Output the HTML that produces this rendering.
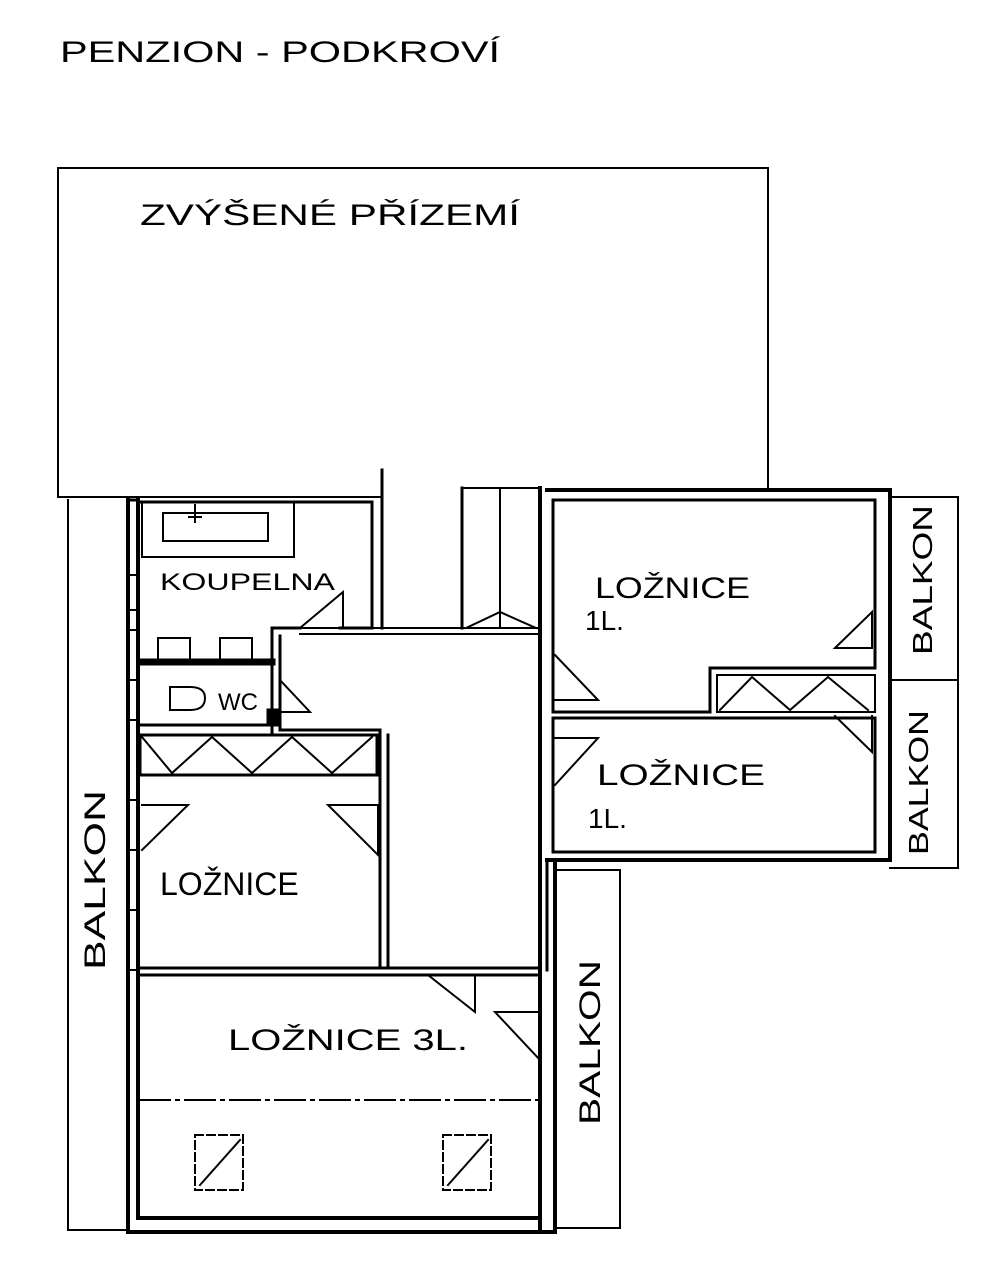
<!DOCTYPE html>
<html><head><meta charset="utf-8"><style>
html,body{margin:0;padding:0;background:#fff;width:1000px;height:1267px;overflow:hidden}
svg{display:block}
text{font-family:"Liberation Sans",sans-serif;fill:#000;font-weight:normal}
</style></head><body>
<svg width="1000" height="1267" viewBox="0 0 1000 1267" xmlns="http://www.w3.org/2000/svg" fill="none" stroke="#000" stroke-width="3" stroke-linecap="square">
<text x="60" y="62" font-size="30" stroke="none" textLength="440" lengthAdjust="spacingAndGlyphs">PENZION -  PODKROVÍ</text>
<text x="140" y="225" font-size="30" stroke="none" textLength="380" lengthAdjust="spacingAndGlyphs">ZVÝŠENÉ   PŘÍZEMÍ</text>
<path d="M58 168 H768 V490 M58 168 V497 H380" stroke-width="2"/>
<path d="M382 470 V628"/>
<path d="M68 500 V1230 H128" stroke-width="2"/>
<path d="M128 500 V1232 M138 500 V1218" stroke-width="4"/>
<path d="M128 500 H138"/>
<g stroke-width="2">
<path d="M128 575 H138 M128 610 H138 M128 630 H138 M128 680 H138 M128 720 H138 M128 800 H138 M128 850 H138 M128 910 H138 M128 970 H138"/>
</g>
<path d="M138 502 H372 V628 H340"/>
<rect x="142" y="502" width="152" height="55" stroke-width="2"/>
<rect x="163" y="513" width="105" height="28" stroke-width="2"/>
<path d="M195 505 V522 M189 517 H201" stroke-width="2"/>
<text x="160" y="590" font-size="24" stroke="none" textLength="175" lengthAdjust="spacingAndGlyphs">KOUPELNA</text>
<path d="M300 628 L343 592 V628" stroke-width="2"/>
<path d="M140 662 H272" stroke-width="7"/>
<rect x="158" y="638" width="32" height="22" stroke-width="2"/>
<rect x="220" y="638" width="32" height="22" stroke-width="2"/>
<path d="M140 725 H272 M272 628 H300 M272 628 V735 M280 636 V730 H380 V855" stroke-width="3"/>
<path d="M170 687 H190 Q205 687 205 698 Q205 710 190 710 H170 Z" stroke-width="2"/>
<text x="218" y="710" font-size="24" stroke="none">WC</text>
<path d="M280 680 L310 712 H280" stroke-width="2"/>
<rect x="268" y="710" width="10" height="15" fill="#000"/>
<rect x="140" y="735" width="237" height="40" stroke-width="3"/>
<path d="M142 737 L172 773 L212 737 L252 773 L292 737 L332 773 L372 737" stroke-width="2"/>
<path d="M380 735 V968 M388 735 V968 M140 968 H540 M140 975 H540" stroke-width="3"/>
<text x="160" y="895" font-size="32" stroke="none">LOŽNICE</text>
<path d="M142 805 H188 L142 850" stroke-width="2"/>
<path d="M328 805 H378 V855 Z" stroke-width="2"/>
<path d="M300 628 H540 M300 634 H540" stroke-width="2"/>
<path d="M462 488 V628 M540 488 V628" stroke-width="3"/>
<path d="M462 488 H540 M500 488 V628 M466 628 L500 612 L536 628" stroke-width="2"/>
<path d="M540 488 V1232 M555 860 V1232" stroke-width="4"/>
<path d="M540 860 V970 M547 860 V970" stroke-width="3"/>
<text x="228" y="1050" font-size="30" stroke="none" textLength="240" lengthAdjust="spacingAndGlyphs">LOŽNICE 3L.</text>
<path d="M140 1100 H540" stroke-width="2" stroke-dasharray="30 6 3 6"/>
<path d="M428 975 L475 1012 V975 M495 1012 H540 V1060 Z" stroke-width="2"/>
<path d="M128 1232 H555 M138 1218 H540" stroke-width="4"/>
<rect x="195" y="1135" width="48" height="55" stroke-width="2" stroke-dasharray="8 4"/>
<path d="M200 1185 L240 1140" stroke-width="2"/>
<rect x="443" y="1135" width="48" height="55" stroke-width="2" stroke-dasharray="8 4"/>
<path d="M448 1185 L488 1140" stroke-width="2"/>
<path d="M555 870 H620 V1228 H555" stroke-width="2"/>
<text transform="translate(600,1125) rotate(-90)" font-size="30" stroke="none" textLength="165" lengthAdjust="spacingAndGlyphs">BALKON</text>
<text transform="translate(105,970) rotate(-90)" font-size="30" stroke="none" textLength="180" lengthAdjust="spacingAndGlyphs">BALKON</text>
<path d="M547 490 H890 V860 H547" stroke-width="4"/>
<path d="M553 500 H875 V668 H710 V712 H553 Z" stroke-width="3"/>
<path d="M553 718 H875 V852 H553 Z" stroke-width="3"/>
<path d="M717 675 H875 V712 H717 Z" stroke-width="2"/>
<path d="M720 710 L752 677 L790 710 L828 677 L868 710" stroke-width="2"/>
<text x="595" y="598" font-size="30" stroke="none" textLength="155" lengthAdjust="spacingAndGlyphs">LOŽNICE</text>
<text x="585" y="630" font-size="28" stroke="none">1L.</text>
<text x="597" y="785" font-size="30" stroke="none" textLength="168" lengthAdjust="spacingAndGlyphs">LOŽNICE</text>
<text x="588" y="828" font-size="28" stroke="none">1L.</text>
<path d="M555 655 L598 700 H555" stroke-width="2"/>
<path d="M555 738 H598 L555 785" stroke-width="2"/>
<path d="M835 648 L872 612 V648 Z" stroke-width="2"/>
<path d="M835 716 L872 752 V716" stroke-width="2"/>
<path d="M890 497 H958 V868 H890 M890 680 H958" stroke-width="2"/>
<text transform="translate(932,655) rotate(-90)" font-size="28" stroke="none" textLength="150" lengthAdjust="spacingAndGlyphs">BALKON</text>
<text transform="translate(928,855) rotate(-90)" font-size="28" stroke="none" textLength="145" lengthAdjust="spacingAndGlyphs">BALKON</text>
</svg>
</body></html>
